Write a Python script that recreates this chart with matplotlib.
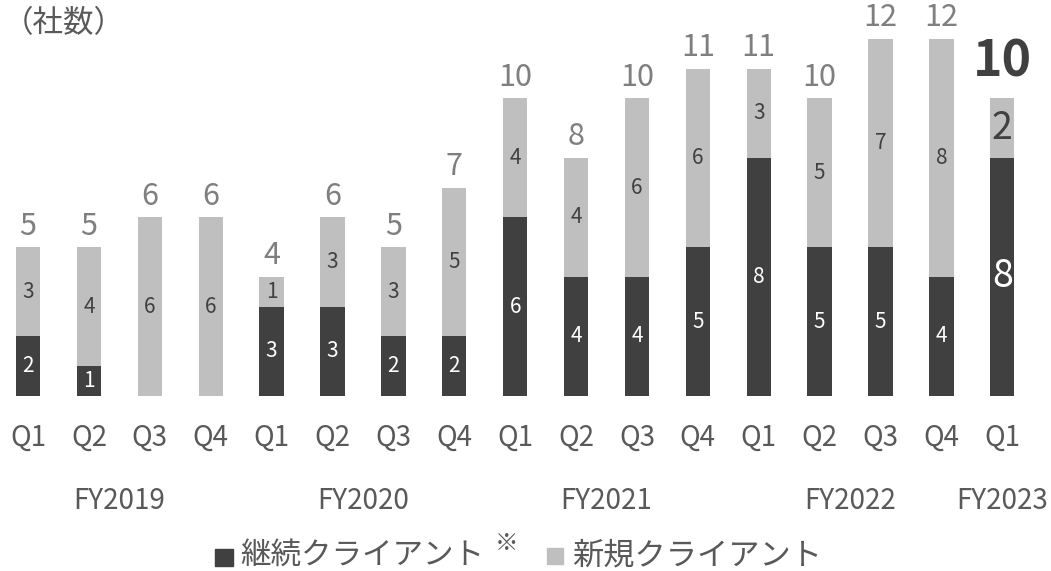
import matplotlib.pyplot as plt
from matplotlib.patches import Rectangle
import numpy as np

plt.rcParams['font.family'] = ['Noto Sans CJK JP', 'DejaVu Sans']

quarters = ['Q1', 'Q2', 'Q3', 'Q4', 'Q1', 'Q2', 'Q3', 'Q4',
            'Q1', 'Q2', 'Q3', 'Q4', 'Q1', 'Q2', 'Q3', 'Q4', 'Q1']
continuing = [2, 1, 0, 0, 3, 3, 2, 2, 6, 4, 4, 5, 8, 5, 5, 4, 8]
new = [3, 4, 6, 6, 1, 3, 3, 5, 4, 4, 6, 6, 3, 5, 7, 8, 2]
fiscal_years = ['FY2019', 'FY2020', 'FY2021', 'FY2022', 'FY2023']
fy_pos = [1.5, 5.5, 9.5, 13.5, 16]

dark = '#404040'
light = '#BFBFBF'
grey_txt = '#7F7F7F'
label_txt = '#595959'

W, H = 1051, 571
fig = plt.figure(figsize=(W / 100, H / 100), dpi=100)
ax = fig.add_axes([0, 175 / H, 1, 396 / H])

x = np.arange(len(quarters))
totals = np.array(continuing) + np.array(new)
w = 0.40

ax.bar(x, continuing, w, color=dark)
ax.bar(x, new, w, bottom=continuing, color=light)

last = len(x) - 1
for i in x:
    big = i == last
    if continuing[i] > 0:
        ax.text(i, continuing[i] / 2, str(continuing[i]), ha='center', va='center',
                color='white', fontsize=27 if big else 15)
    if new[i] > 0:
        ax.text(i, continuing[i] + new[i] / 2, str(new[i]), ha='center', va='center',
                color=dark, fontsize=27 if big else 15)
    if big:
        ax.annotate(str(totals[i]), (i, totals[i]), xytext=(0, 8), textcoords='offset points',
                    ha='center', va='bottom', fontsize=36, fontweight='bold', color=dark)
    else:
        ax.annotate(str(totals[i]), (i, totals[i]), xytext=(0, 4), textcoords='offset points',
                    ha='center', va='bottom', fontsize=22, color=grey_txt)

ax.set_xlim(-0.46, 16.8)
ax.set_ylim(0, 13.31)
ax.set_xticks(x)
ax.set_xticklabels(quarters, fontsize=20, color=label_txt)
ax.tick_params(axis='x', length=0, pad=19)
ax.set_yticks([])
for s in ax.spines.values():
    s.set_visible(False)

for fy, p in zip(fiscal_years, fy_pos):
    ax.text(p, -0.265, fy, transform=ax.get_xaxis_transform(), ha='center', va='center',
            fontsize=20, color=label_txt)

fig.text(0.003, 0.958, '（社数）', ha='left', va='center', fontsize=22, color=label_txt)

# legend: swatches + text
ly = (H - 555) / H
fig.add_artist(Rectangle((215 / W, (H - 566) / H), 18 / W, 17 / H,
                         transform=fig.transFigure, color=dark))
fig.text(240 / W, ly, '継続クライアント', color=label_txt, fontsize=22, ha='left', va='center')
fig.text(495 / W, (H - 543) / H, '※', color=label_txt, fontsize=17, ha='left', va='center')
fig.add_artist(Rectangle((547 / W, (H - 564) / H), 16 / W, 16 / H,
                         transform=fig.transFigure, color=light))
fig.text(572 / W, ly, '新規クライアント', color=label_txt, fontsize=22.5, ha='left', va='center')

fig.savefig('out.png', dpi=100)
